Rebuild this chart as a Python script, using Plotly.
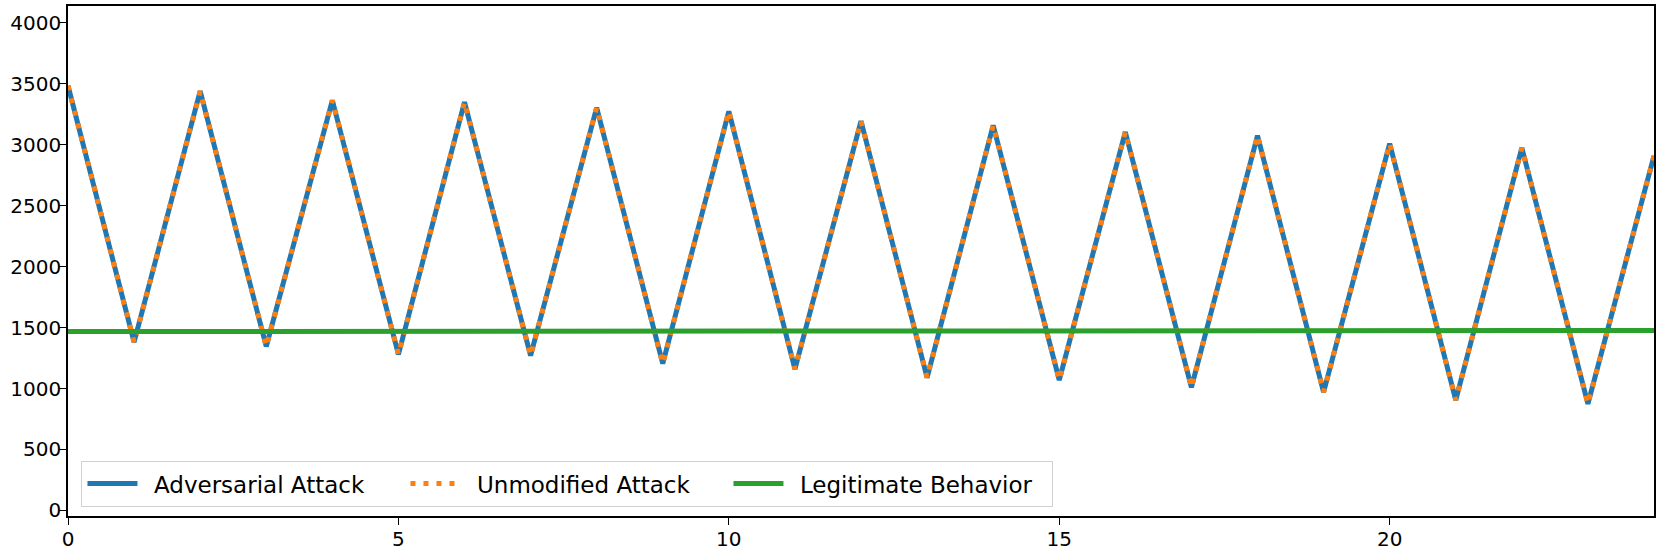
import plotly.graph_objects as go

# time steps
steps = list(range(25))

# attack trace (adversarial and unmodified overlap)
adversarial = [3485, 1380, 3440, 1345, 3365, 1280, 3350, 1270, 3305, 1205,
               3275, 1160, 3195, 1090, 3160, 1070, 3105, 1010, 3075, 970,
               3010, 905, 2975, 875, 2910]
unmodified = [3485, 1380, 3440, 1345, 3365, 1280, 3350, 1270, 3305, 1205,
              3275, 1160, 3195, 1090, 3160, 1070, 3105, 1010, 3075, 970,
              3010, 905, 2975, 875, 2910]
legitimate = [1468, 1468, 1469, 1469, 1470, 1470, 1470, 1471, 1471, 1472,
              1472, 1472, 1473, 1473, 1472, 1472, 1473, 1473, 1473, 1474,
              1474, 1474, 1475, 1475, 1476]

y_ticks = [0, 500, 1000, 1500, 2000, 2500, 3000, 3500, 4000]
x_ticks = [0, 5, 10, 15, 20]

# en-space pads the gap between legend sample and label like matplotlib does
pad = "\u2002"

fig = go.Figure()
fig.add_trace(
    go.Scatter(x=steps, y=adversarial, name=pad + "Adversarial Attack", mode="lines",
               line={"color": "#1f77b4", "width": 5})
)
fig.add_trace(
    go.Scatter(x=steps, y=unmodified, name=pad + "Unmodified Attack", mode="lines",
               line={"color": "#ff7f0e", "width": 5, "dash": "5px,8px"})
)
fig.add_trace(
    go.Scatter(x=steps, y=legitimate, name=pad + "Legitimate Behavior", mode="lines",
               line={"color": "#2ca02c", "width": 5})
)

axis_style = dict(
    showline=True, linecolor="black", linewidth=1.6, mirror=True,
    ticks="outside", ticklen=7, tickwidth=1.4, tickcolor="black",
    showgrid=False, zeroline=False, automargin=False,
    tickfont={"family": "DejaVu Sans", "size": 20, "color": "black"},
)

fig.update_xaxes(range=[0, 24], tickvals=x_ticks, ticklabelstandoff=-3,
                 **axis_style)
fig.update_yaxes(range=[-46, 4139], tickvals=y_ticks, ticklabelstandoff=-6,
                 **axis_style)

fig.update_layout(
    width=1661, height=554,
    margin={"l": 68, "r": 7, "t": 6, "b": 38},
    plot_bgcolor="white", paper_bgcolor="white",
    legend={
        "orientation": "h",
        "x": 0.0083, "xanchor": "left",
        "y": 0.018, "yanchor": "bottom",
        "font": {"family": "DejaVu Sans", "size": 23, "color": "black"},
        "bgcolor": "rgba(255,255,255,0.8)",
        "bordercolor": "#d0d0d0", "borderwidth": 1.3,
        "itemwidth": 50,
        "entrywidth": 258, "entrywidthmode": "pixels",
    },
)

# drop the browser's default body margin so the figure sits at the page origin
fig.write_html("out.html", config={"displayModeBar": False},
               post_script="document.body.style.margin='0px';")
